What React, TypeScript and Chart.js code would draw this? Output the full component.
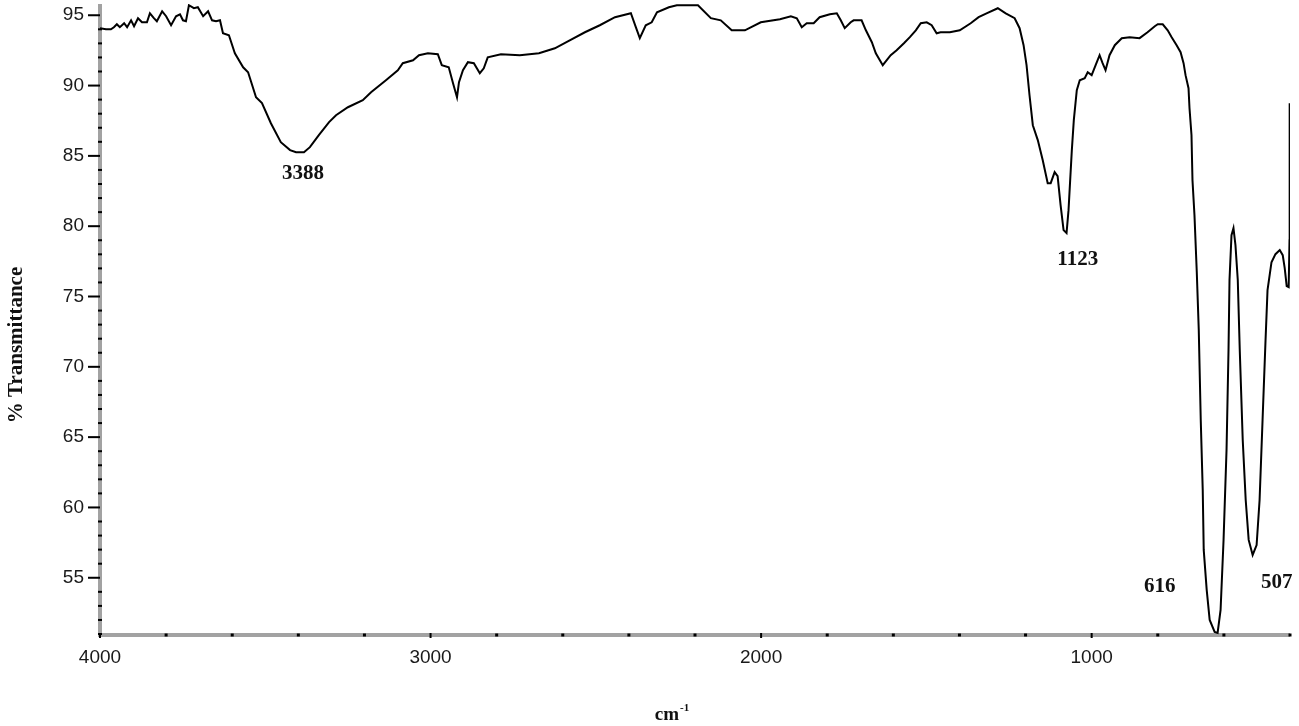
import React, { useEffect, useRef } from "react";
import { Chart, registerables } from "chart.js";

Chart.register(...registerables);

// Wavenumber (cm-1), left (4000) to right (~400)
const wavenumbers = [
  4000, 3982, 3967, 3958, 3949, 3940, 3927, 3918, 3906, 3897,
  3885, 3873, 3858, 3849, 3837, 3828, 3812, 3800, 3785, 3770,
  3758, 3749, 3740, 3731, 3716, 3704, 3688, 3673, 3661, 3649,
  3637, 3628, 3610, 3592, 3567, 3552, 3528, 3510, 3483, 3453,
  3425, 3407, 3383, 3365, 3338, 3307, 3286, 3250, 3205, 3180,
  3135, 3099, 3084, 3053, 3035, 3008, 2978, 2966, 2945, 2932,
  2920, 2914, 2902, 2887, 2869, 2851, 2839, 2827, 2787, 2730,
  2672, 2624, 2579, 2533, 2488, 2442, 2394, 2379, 2367, 2349,
  2331, 2315, 2279, 2255, 2191, 2152, 2122, 2089, 2049, 2001,
  1943, 1910, 1892, 1877, 1862, 1841, 1823, 1792, 1771, 1759,
  1747, 1729, 1720, 1696, 1683, 1665, 1653, 1632, 1608, 1590,
  1568, 1550, 1532, 1517, 1499, 1484, 1469, 1457, 1429, 1399,
  1366, 1342, 1318, 1284, 1260, 1233, 1218, 1206, 1197, 1188,
  1178, 1163, 1148, 1133, 1124, 1112, 1103, 1094, 1085, 1076,
  1070, 1060, 1054, 1045, 1036, 1021, 1012, 1000, 988, 976,
  967, 958, 946, 930, 909, 885, 855, 831, 809, 800,
  785, 770, 758, 743, 731, 722, 716, 707, 704, 698,
  695, 689, 682, 676, 670, 664, 661, 652, 643, 628,
  619, 610, 601, 592, 586, 583, 577, 571, 565, 558,
  552, 543, 534, 525, 513, 501, 492, 483, 474, 468,
  456, 444, 431, 422, 416, 410, 404, 401.5, 401,
];

// % Transmittance at each wavenumber
const transmittance = [
  94.08, 94.0, 94.0, 94.15, 94.36, 94.15, 94.43, 94.15, 94.64, 94.22,
  94.79, 94.5, 94.5, 95.14, 94.79, 94.57, 95.28, 94.93, 94.29, 94.93,
  95.07, 94.64, 94.57, 95.71, 95.5, 95.57, 94.93, 95.28, 94.64, 94.57,
  94.64, 93.72, 93.58, 92.3, 91.3, 90.95, 89.17, 88.75, 87.32, 85.97,
  85.41, 85.26, 85.26, 85.62, 86.47, 87.4, 87.89, 88.46, 88.96, 89.53,
  90.38, 91.09, 91.59, 91.8, 92.16, 92.3, 92.23, 91.45, 91.3, 90.17,
  89.17, 90.24, 91.09, 91.66, 91.59, 90.88, 91.23, 92.01, 92.23, 92.16,
  92.3, 92.65, 93.22, 93.79, 94.29, 94.86, 95.14, 94.15, 93.37, 94.29,
  94.5, 95.21, 95.57, 95.71, 95.71, 94.79, 94.64, 93.93, 93.93, 94.5,
  94.72, 94.93, 94.79, 94.15, 94.43, 94.43, 94.86, 95.07, 95.14, 94.64,
  94.08, 94.5, 94.64, 94.64, 93.93, 93.08, 92.3, 91.45, 92.16, 92.51,
  93.01, 93.44, 93.93, 94.43, 94.5, 94.29, 93.72, 93.79, 93.79, 93.93,
  94.43, 94.86, 95.14, 95.5, 95.14, 94.79, 94.08, 92.87, 91.45, 89.31,
  87.18, 86.12, 84.69, 83.06, 83.06, 83.84, 83.56, 81.5, 79.72, 79.51,
  81.14, 85.41, 87.54, 89.67, 90.38, 90.52, 90.95, 90.74, 91.45, 92.16,
  91.59, 91.09, 92.16, 92.87, 93.37, 93.44, 93.37, 93.79, 94.22, 94.36,
  94.36, 93.93, 93.44, 92.87, 92.37, 91.59, 90.74, 89.81, 88.39, 86.47,
  83.27, 80.79, 76.73, 72.61, 66.22, 61.24, 56.98, 54.14, 52.0, 51.15,
  51.08, 52.71, 57.69, 64.08, 71.19, 76.17, 79.36, 79.86, 78.65, 76.17,
  71.19, 64.79, 60.53, 57.69, 56.62, 57.33, 60.53, 66.22, 71.9, 75.45,
  77.44, 78.01, 78.3, 77.94, 77.02, 75.74, 75.67, 79.0, 88.75,
];

// Axis tick labels
const xTickLabels = [4000, 3000, 2000, 1000];
const yTickLabels = [55, 60, 65, 70, 75, 80, 85, 90, 95];
const xMinorStep = 200;
const yMinorStep = 1;

// Peak annotations (text, wavenumber position, transmittance position)
const peakTexts = ["3388", "1123", "616", "507"];
const peakLabelX = [3386, 1042, 794, 440];
const peakLabelY = [83.77, 77.66, 54.35, 54.63];

const yTitle = "% Transmittance";
const xTitleMain = "cm";
const xTitleSup = "-1";

const decoPlugin = {
  id: "irDeco",
  beforeDatasetsDraw(chart: any) {
    const { ctx, chartArea, scales } = chart;
    const { left, right, top, bottom } = chartArea;
    const x = scales.x;
    const y = scales.y;
    ctx.save();
    ctx.strokeStyle = "#a2a2a2";
    ctx.lineWidth = 4;
    ctx.beginPath();
    ctx.moveTo(left, top);
    ctx.lineTo(left, bottom);
    ctx.lineTo(right, bottom);
    ctx.stroke();
    ctx.fillStyle = "#000";
    for (let v = Math.ceil(y.min); v <= y.max; v += yMinorStep) {
      const py = y.getPixelForValue(v);
      if (yTickLabels.includes(v)) ctx.fillRect(left - 12, py - 1, 12, 2);
      else ctx.fillRect(left - 2, py - 1, 4, 2);
    }
    for (let w = 4000; w >= x.min; w -= xMinorStep) {
      const px = x.getPixelForValue(w);
      if (xTickLabels.includes(w)) ctx.fillRect(px - 1, bottom - 2, 2, 5);
      else ctx.fillRect(px - 1.5, bottom - 1.5, 3, 3);
    }
    ctx.restore();
  },
  afterDatasetsDraw(chart: any) {
    const { ctx, scales } = chart;
    const x = scales.x;
    const y = scales.y;
    ctx.save();
    ctx.fillStyle = "#111";
    ctx.font = "bold 21px 'Liberation Serif', 'Times New Roman', serif";
    ctx.textAlign = "center";
    ctx.textBaseline = "middle";
    peakTexts.forEach((t, i) => {
      ctx.fillText(t, x.getPixelForValue(peakLabelX[i]), y.getPixelForValue(peakLabelY[i]));
    });
    // y-axis title
    ctx.save();
    ctx.translate(17, 345);
    ctx.rotate(-Math.PI / 2);
    ctx.font = "bold 21px 'Liberation Serif', 'Times New Roman', serif";
    ctx.fillText(yTitle, 0, 0);
    ctx.restore();
    // x-axis title with superscript
    ctx.textAlign = "left";
    ctx.textBaseline = "alphabetic";
    ctx.font = "bold 19px 'Liberation Serif', 'Times New Roman', serif";
    const mw = ctx.measureText(xTitleMain).width;
    ctx.font = "bold 11px 'Liberation Serif', 'Times New Roman', serif";
    const sw = ctx.measureText(xTitleSup).width;
    const startX = 672 - (mw + sw + 1) / 2;
    ctx.font = "bold 19px 'Liberation Serif', 'Times New Roman', serif";
    ctx.fillText(xTitleMain, startX, 720);
    ctx.font = "bold 11px 'Liberation Serif', 'Times New Roman', serif";
    ctx.fillText(xTitleSup, startX + mw + 1, 711);
    ctx.restore();
  },
};

export default function App() {
  const canvasRef = useRef<HTMLCanvasElement | null>(null);

  useEffect(() => {
    if (!canvasRef.current) return;
    const points = wavenumbers.map((w, i) => ({ x: w, y: transmittance[i] }));
    const chart = new Chart(canvasRef.current, {
      type: "line",
      data: {
        datasets: [
          {
            label: "% Transmittance",
            data: points,
            borderColor: "#000",
            borderWidth: 2,
            pointRadius: 0,
            tension: 0,
            fill: false,
          },
        ],
      },
      options: {
        animation: false,
        responsive: false,
        maintainAspectRatio: false,
        layout: { padding: { top: 4, right: 9, left: 0, bottom: 0 } },
        plugins: {
          legend: { display: false },
          tooltip: { enabled: false },
          title: { display: false },
        },
        scales: {
          x: {
            type: "linear",
            reverse: true,
            min: 400,
            max: 4000,
            border: { display: false },
            grid: { display: false, drawTicks: false },
            afterBuildTicks: (scale: any) => {
              scale.ticks = xTickLabels.map((v) => ({ value: v }));
            },
            afterFit: (scale: any) => {
              scale.height = 91;
              scale.paddingLeft = 0;
              scale.paddingRight = 0;
            },
            ticks: {
              padding: 11,
              maxRotation: 0,
              autoSkip: false,
              color: "#1a1a1a",
              font: { family: "'Liberation Sans', Arial, sans-serif", size: 19 },
              callback: (v: any) => String(v),
            },
          },
          y: {
            type: "linear",
            min: 50.93,
            max: 95.8,
            border: { display: false },
            grid: { display: false, drawTicks: false },
            afterBuildTicks: (scale: any) => {
              scale.ticks = yTickLabels.map((v) => ({ value: v }));
            },
            afterFit: (scale: any) => {
              scale.width = 100;
              scale.paddingTop = 0;
              scale.paddingBottom = 0;
            },
            ticks: {
              padding: 16,
              autoSkip: false,
              color: "#1a1a1a",
              font: { family: "'Liberation Sans', Arial, sans-serif", size: 19 },
              callback: (v: any) => String(v),
            },
          },
        },
      },
      plugins: [decoPlugin],
    });
    return () => chart.destroy();
  }, []);

  return (
    <div style={{ position: "fixed", left: 0, top: 0, width: 1299, height: 726, background: "#fff" }}>
      <canvas ref={canvasRef} width={1299} height={726} style={{ display: "block" }} />
    </div>
  );
}
